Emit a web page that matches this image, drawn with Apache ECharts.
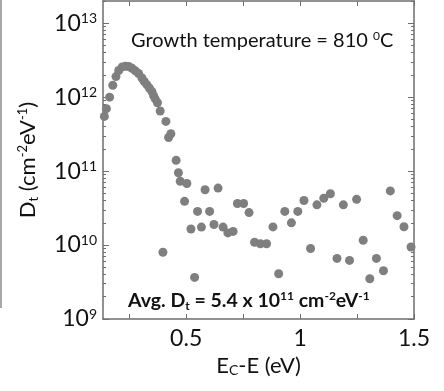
<!DOCTYPE html>
<html>
<head>
<meta charset="utf-8">
<script src="https://cdn.jsdelivr.net/npm/echarts@6/dist/echarts.min.js"></script>
<style>
  html, body { margin: 0; padding: 0; background: #fff; }
  #chart { width: 444px; height: 391px; }
</style>
</head>
<body>
<div id="chart"></div>
<script>
// E_C - E (eV)
const energy = [0.141, 0.150, 0.164, 0.178, 0.192, 0.204, 0.219, 0.233, 0.248, 0.262,
  0.277, 0.291, 0.306, 0.316, 0.328, 0.339, 0.350, 0.357, 0.364, 0.374,
  0.386, 0.398, 0.411, 0.423, 0.433, 0.456, 0.466, 0.474, 0.493, 0.503,
  0.521, 0.537, 0.550, 0.567, 0.583, 0.603, 0.622, 0.640, 0.662, 0.683,
  0.706, 0.725, 0.752, 0.776, 0.800, 0.826, 0.853, 0.881, 0.906, 0.933,
  0.962, 0.990, 1.017, 1.046, 1.074, 1.104, 1.133, 1.162, 1.190, 1.217,
  1.248, 1.277, 1.306, 1.335, 1.366, 1.396, 1.426, 1.456, 1.487];
// D_t (cm^-2 eV^-1)
const density = [5.5e11, 7.0e11, 1.0e12, 1.45e12, 1.9e12, 2.3e12, 2.57e12, 2.62e12, 2.6e12, 2.46e12,
  2.27e12, 2.09e12, 1.82e12, 1.63e12, 1.47e12, 1.32e12, 1.19e12, 1.05e12, 9.5e11, 8.4e11,
  6.5e11, 8.0e9, 4.7e11, 2.85e11, 3.2e11, 1.4e11, 9.5e10, 7.3e10, 3.9e10, 6.8e10,
  1.65e10, 3.65e9, 2.85e10, 1.75e10, 5.6e10, 2.85e10, 1.9e10, 5.9e10, 1.75e10, 1.46e10,
  1.53e10, 3.65e10, 3.65e10, 2.75e10, 1.09e10, 1.04e10, 1.04e10, 1.76e10, 4.1e9, 2.85e10,
  2.0e10, 2.85e10, 4.0e10, 9.0e9, 3.5e10, 4.3e10, 4.95e10, 6.6e9, 3.5e10, 6.2e9,
  4.15e10, 1.16e10, 3.5e9, 6.6e9, 4.5e9, 5.4e10, 2.5e10, 1.77e10, 9.4e9];

const xTicks = [0.25, 0.5, 0.75, 1, 1.25, 1.5];
const xLabels = [0.5, 1, 1.5];
const yMajor = [1e9, 1e10, 1e11, 1e12, 1e13];
// minor ticks 2..9 in every decade
const yMinor = [];
yMajor.slice(0, -1).forEach(d => { for (let k = 2; k <= 9; k++) yMinor.push(k * d); });
yMinor.push(2e13);

const FONT = 'Lato';
const AXIS_COLOR = '#6e6e6e';
const DOT_COLOR = '#7f7f7f';

const chart = echarts.init(document.getElementById('chart'));

const xAxisBase = {
  type: 'value',
  min: 0.135,
  max: 1.5,
  splitLine: {show: false},
  axisLine: {show: true, onZero: false, lineStyle: {color: AXIS_COLOR, width: 1.5}},
  axisTick: {show: true, inside: true, length: 5, customValues: xTicks, lineStyle: {color: AXIS_COLOR, width: 1}}
};

const yAxisBase = (pos, major) => ({
  type: 'log',
  logBase: 10,
  min: 1e9,
  max: 2e13,
  position: pos,
  splitLine: {show: false},
  axisLine: {show: major, onZero: false, lineStyle: {color: AXIS_COLOR, width: 1.5}},
  axisTick: {show: true, inside: true, length: major ? 6 : 3,
    customValues: major ? yMajor : yMinor, lineStyle: {color: AXIS_COLOR, width: 1}},
  axisLabel: {show: false}
});

const leftMajor = yAxisBase('left', true);
leftMajor.axisLabel = {
  show: true,
  customValues: yMajor,
  margin: 6,
  formatter: v => '{b|10}{s|' + Math.round(Math.log10(v)) + '}',
  rich: {
    b: {fontFamily: FONT, fontSize: 23, color: '#111', lineHeight: 24},
    s: {fontFamily: FONT, fontSize: 14, color: '#111', verticalAlign: 'top', lineHeight: 14}
  }
};
leftMajor.name = '{b|D}{sub|t}{b| (cm}{sup|-2}{b|eV}{sup|-1}{b|)}';
leftMajor.nameLocation = 'middle';
leftMajor.nameRotate = 90;
leftMajor.nameGap = 63;
leftMajor.nameTextStyle = {
  rich: {
    b: {fontFamily: FONT, fontSize: 22, color: '#111', lineHeight: 24},
    sub: {fontFamily: FONT, fontSize: 13, color: '#111', verticalAlign: 'bottom', lineHeight: 10},
    sup: {fontFamily: FONT, fontSize: 13, color: '#111', verticalAlign: 'top', lineHeight: 13}
  }
};

chart.setOption({
  animation: false,
  backgroundColor: '#fff',
  grid: {left: 103, right: 30, top: 1, bottom: 72, containLabel: false},
  xAxis: [
    Object.assign({}, xAxisBase, {
      position: 'bottom',
      axisLabel: {
        show: true,
        customValues: xLabels,
        margin: 8,
        fontFamily: FONT,
        fontSize: 23,
        color: '#111',
        formatter: v => String(v)
      },
      name: '{b|E}{sub|C}{b|-E (eV)}',
      nameLocation: 'middle',
      nameGap: 32,
      nameTextStyle: {
        rich: {
          b: {fontFamily: FONT, fontSize: 22, color: '#111', lineHeight: 24},
          sub: {fontFamily: FONT, fontSize: 14, color: '#111', verticalAlign: 'bottom', lineHeight: 4}
        }
      }
    }),
    Object.assign({}, xAxisBase, {position: 'top', axisLabel: {show: false}})
  ],
  yAxis: [
    leftMajor,
    yAxisBase('left', false),
    yAxisBase('right', true),
    yAxisBase('right', false)
  ],
  graphic: [
    {
      type: 'line',
      shape: {x1: 1, y1: 0, x2: 1, y2: 308},
      style: {stroke: '#8a8a8a', lineWidth: 1.5}
    },
    {
      type: 'text',
      x: 131,
      y: 41,
      style: {
        text: '{n|Growth temperature = 810 }{s|0}{n|C}',
        verticalAlign: 'middle',
        rich: {
          n: {fontFamily: FONT, fontSize: 20, fill: '#111', lineHeight: 22},
          s: {fontFamily: FONT, fontSize: 12, fill: '#111', verticalAlign: 'top', lineHeight: 12}
        }
      }
    },
    {
      type: 'text',
      x: 128,
      y: 301,
      style: {
        text: '{n|Avg. D}{sub|t}{n| = 5.4 x 10}{sup|11}{n| cm}{sup|-2}{n|eV}{sup|-1}',
        verticalAlign: 'middle',
        rich: {
          n: {fontFamily: FONT, fontSize: 19.5, fontWeight: 'bold', fill: '#111', lineHeight: 22},
          sub: {fontFamily: FONT, fontSize: 12, fontWeight: 'bold', fill: '#111', verticalAlign: 'bottom', lineHeight: 12},
          sup: {fontFamily: FONT, fontSize: 12, fontWeight: 'bold', fill: '#111', verticalAlign: 'top', lineHeight: 12}
        }
      }
    }
  ],
  series: [{
    type: 'scatter',
    xAxisIndex: 0,
    yAxisIndex: 0,
    symbolSize: 9,
    itemStyle: {color: DOT_COLOR, opacity: 1},
    data: energy.map((e, i) => [e, density[i]])
  }]
});
</script>
</body>
</html>
